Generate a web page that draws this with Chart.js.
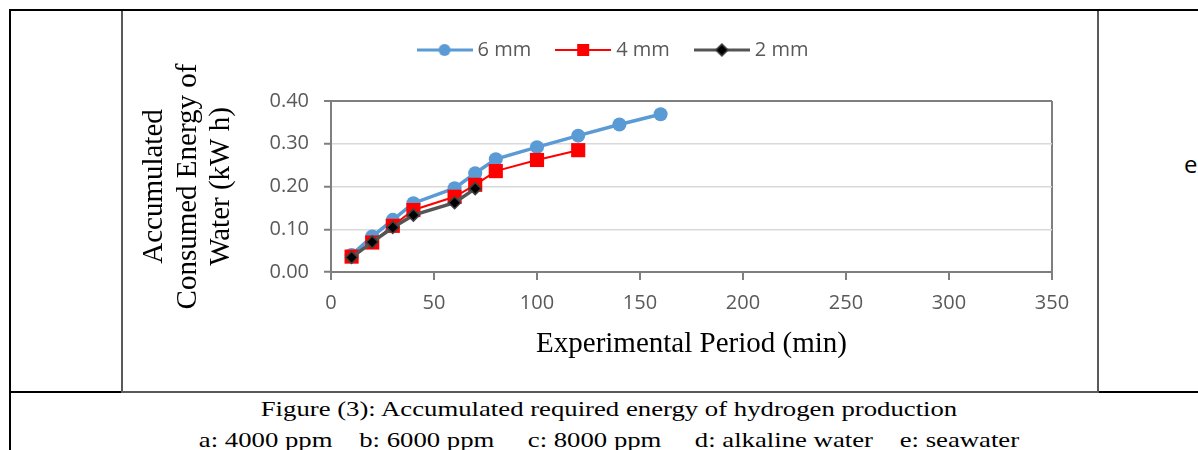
<!DOCTYPE html>
<html lang="en">
<head>
    <meta charset="UTF-8">
    <title>Accumulated Consumed Energy of Water</title>
    <script src="https://cdn.jsdelivr.net/npm/chart.js"></script>
    <style>
        body {
            margin: 0;
            width: 1198px;
            height: 450px;
            overflow: hidden;
            background: #fff;
            position: relative;
            font-family: "Liberation Serif", "Times New Roman", serif;
        }
        .outer {
            position: absolute;
            left: 9px;
            top: 9px;
            width: 1300px;
            height: 500px;
            border-top: 2px solid #000;
            border-left: 2px solid #000;
        }
        .hline {
            position: absolute;
            left: 9px;
            top: 391px;
            width: 1300px;
            height: 2px;
            background: #000;
        }
        .box {
            position: absolute;
            left: 121px;
            top: 11px;
            width: 974px;
            height: 380px;
            border-left: 2px solid #595959;
            border-right: 2px solid #595959;
            border-bottom: 2px solid #595959;
        }
        .chart-wrap {
            position: absolute;
            left: 0;
            top: 0;
            width: 974px;
            height: 380px;
        }
        .caption {
            position: absolute;
            left: 9px;
            width: 1200px;
            text-align: center;
            font-size: 22px;
            white-space: pre;
            color: #000;
            transform: scaleX(1.215);
            transform-origin: 600px 0;
        }
        .side {
            position: absolute;
            left: 1184px;
            top: 147px;
            font-family: "Open Sans", sans-serif;
            font-size: 24px;
            color: #000;
        }
    </style>
</head>
<body>
    <div class="outer"></div>
    <div class="hline"></div>
    <div class="box">
        <div class="chart-wrap"><canvas id="myChart"></canvas></div>
    </div>
    <div class="side">e</div>
    <div class="caption" style="top:396px;">Figure (3): Accumulated required energy of hydrogen production</div>
    <div class="caption" style="top:427px;">a: 4000 ppm    b: 6000 ppm     c: 8000 ppm     d: alkaline water    e: seawater</div>

    <script>
        // experimental period (min) and accumulated energy (kW h) per electrode gap
        const time6 = [10, 20, 30, 40, 60, 70, 80, 100, 120, 140, 160];
        const energy6 = [0.040, 0.083, 0.122, 0.161, 0.196, 0.231, 0.264, 0.292, 0.319, 0.345, 0.369];

        const time4 = [10, 20, 30, 40, 60, 70, 80, 100, 120];
        const energy4 = [0.036, 0.069, 0.108, 0.145, 0.176, 0.204, 0.236, 0.262, 0.285];

        const time2 = [10, 20, 30, 40, 60, 70];
        const energy2 = [0.034, 0.070, 0.104, 0.133, 0.162, 0.195];

        const seriesLabels = ['6 mm', '4 mm', '2 mm'];
        const xTicks = [0, 50, 100, 150, 200, 250, 300, 350];
        const yTicks = [0.00, 0.10, 0.20, 0.30, 0.40];

        const axisGray = '#7f7f7f';
        const tickFont = { family: 'Open Sans', size: 20 };
        const titleFont = { family: 'Liberation Serif', size: 29, lineHeight: 1.155 };

        function toPoints(xs, ys) {
            return xs.map((x, i) => ({ x: x, y: ys[i] }));
        }

        // little legend swatch: line with the marker in the middle
        function legendSwatch(color, lineWidth, marker) {
            const c = document.createElement('canvas');
            c.width = 56;
            c.height = 18;
            const g = c.getContext('2d');
            g.strokeStyle = color;
            g.lineWidth = lineWidth;
            g.beginPath();
            g.moveTo(0, 9);
            g.lineTo(56, 9);
            g.stroke();
            if (marker === 'circle') {
                g.fillStyle = color;
                g.beginPath();
                g.arc(28, 9, 6, 0, Math.PI * 2);
                g.fill();
            } else if (marker === 'rect') {
                g.fillStyle = color;
                g.fillRect(22, 3, 12, 12);
            } else {
                g.fillStyle = '#000';
                g.strokeStyle = '#404040';
                g.lineWidth = 1.5;
                g.beginPath();
                g.moveTo(28, 3);
                g.lineTo(34, 9);
                g.lineTo(28, 15);
                g.lineTo(22, 9);
                g.closePath();
                g.fill();
                g.stroke();
            }
            return c;
        }

        const swatches = [
            legendSwatch('#5b9bd5', 3, 'circle'),
            legendSwatch('#ff0000', 2, 'rect'),
            legendSwatch('#555555', 3, 'diamond')
        ];

        // push the plot down below the legend, and nudge the legend right
        const legendGap = {
            id: 'legendGap',
            beforeInit(chart) {
                const fit = chart.legend.fit;
                chart.legend.fit = function () {
                    fit.bind(chart.legend)();
                    this.height += 31;
                };
            },
            afterLayout(chart) {
                chart.legend.left += 20;
                chart.legend.right += 20;
            }
        };

        const ctx = document.getElementById('myChart').getContext('2d');

        new Chart(ctx, {
            type: 'line',
            data: {
                datasets: [
                    {
                        label: seriesLabels[0],
                        data: toPoints(time6, energy6),
                        borderColor: '#5b9bd5',
                        backgroundColor: '#5b9bd5',
                        borderWidth: 3.5,
                        pointStyle: 'circle',
                        pointRadius: 7,
                        pointBorderWidth: 0,
                        order: 3
                    },
                    {
                        label: seriesLabels[1],
                        data: toPoints(time4, energy4),
                        borderColor: '#ff0000',
                        backgroundColor: '#ff0000',
                        borderWidth: 2,
                        pointStyle: 'rect',
                        pointRadius: 10,
                        pointBorderWidth: 0,
                        order: 2
                    },
                    {
                        label: seriesLabels[2],
                        data: toPoints(time2, energy2),
                        borderColor: '#555555',
                        backgroundColor: '#000000',
                        borderWidth: 3.5,
                        pointStyle: 'rectRot',
                        pointRadius: 6,
                        pointBorderColor: '#404040',
                        pointBorderWidth: 1.5,
                        order: 1
                    }
                ]
            },
            options: {
                responsive: true,
                maintainAspectRatio: false,
                animation: false,
                layout: { padding: { left: 15, right: 45, top: 0, bottom: 30 } },
                plugins: {
                    tooltip: { enabled: false },
                    legend: {
                        position: 'top',
                        labels: {
                            font: tickFont,
                            color: '#595959',
                            usePointStyle: true,
                            pointStyleWidth: 46,
                            padding: 29,
                            sort: (a, b) => a.datasetIndex - b.datasetIndex,
                            generateLabels(chart) {
                                const items = Chart.defaults.plugins.legend.labels.generateLabels(chart);
                                items.forEach(item => { item.pointStyle = swatches[item.datasetIndex]; });
                                return items;
                            }
                        }
                    }
                },
                scales: {
                    x: {
                        type: 'linear',
                        min: 0,
                        max: 350,
                        afterBuildTicks: scale => { scale.ticks = xTicks.map(v => ({ value: v })); },
                        afterFit: scale => { scale.height = 89; },
                        ticks: { font: tickFont, color: '#595959', padding: 11 },
                        grid: {
                            color: c => c.tick && c.tick.value === 350 ? axisGray : 'rgba(0,0,0,0)',
                            tickColor: axisGray,
                            tickLength: 8,
                            lineWidth: 2,
                            tickWidth: 2
                        },
                        border: { color: axisGray, width: 2 },
                        title: {
                            display: true,
                            text: 'Experimental Period (min)',
                            color: '#000',
                            font: titleFont,
                            padding: 0
                        }
                    },
                    y: {
                        min: 0,
                        max: 0.4,
                        afterBuildTicks: scale => { scale.ticks = yTicks.map(v => ({ value: v })); },
                        afterFit: scale => { scale.width = 193; },
                        ticks: {
                            font: tickFont,
                            color: '#595959',
                            padding: 15,
                            callback: v => v.toFixed(2)
                        },
                        grid: {
                            color: c => {
                                if (!c.tick) return '#d9d9d9';
                                if (c.tick.value >= 0.4) return axisGray;
                                return '#d9d9d9';
                            },
                            lineWidth: c => c.tick && c.tick.value >= 0.4 ? 2 : 1.5,
                            tickColor: axisGray,
                            tickLength: 7,
                            tickWidth: 2
                        },
                        border: { color: axisGray, width: 2 },
                        title: {
                            display: true,
                            text: ['Accumulated', 'Consumed Energy of', 'Water (kW h)'],
                            color: '#000',
                            font: titleFont,
                            padding: 0
                        }
                    }
                }
            },
            plugins: [legendGap]
        });
    </script>
</body>
</html>
